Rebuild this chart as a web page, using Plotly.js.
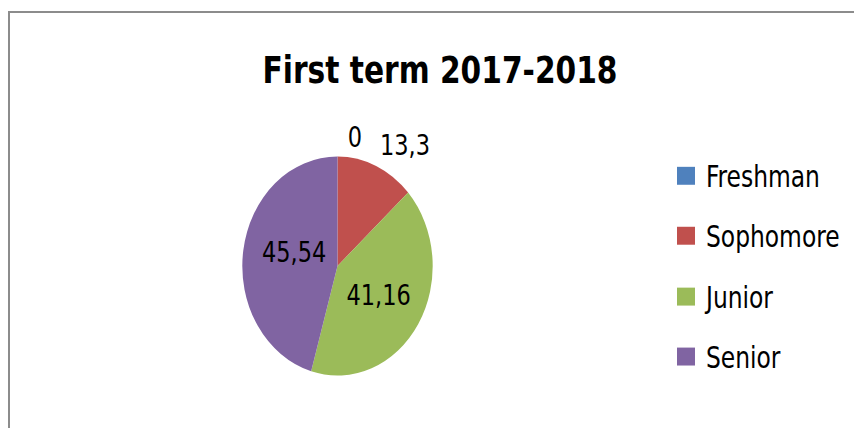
<!DOCTYPE html>
<html><head><meta charset="utf-8">
<script src="https://cdn.plot.ly/plotly-3.0.1.min.js"></script>
<style>
html,body{margin:0;padding:0;background:#fff;overflow:hidden;}
#wrap{position:absolute;left:0;top:0;width:854px;height:428px;overflow:hidden;background:#fff;}
#chart{position:absolute;left:0;top:0;width:854px;height:372px;transform:scaleY(1.150538);transform-origin:0 0;}
#frame{position:absolute;left:8px;top:11px;width:900px;height:500px;border-top:2px solid #8c8c8c;border-left:2px solid #8c8c8c;pointer-events:none;}
.pielayer path.textline{display:none;}
</style></head><body>
<div id="wrap"><div id="chart"></div><div id="frame"></div></div>
<script>
// ---- data ----
const categories = ['Freshman', 'Sophomore', 'Junior', 'Senior'];
const values = [0, 13.3, 41.16, 45.54];
const sliceColors = ['#4F81BD', '#C0504D', '#9BBB59', '#8064A2'];
const labelPositions = ['outside', 'outside', 'inside', 'inside'];
const chartTitle = 'First term 2017-2018';

// ---- style ----
const FONT = '"DejaVu Sans Condensed", "DejaVu Sans", sans-serif';
const H = 372, W = 854;
// small label offsets (px) to mimic Excel's label placement
const labelNudge = [[3, 16.5], [-3.5, -6], [0, 0], [4, -5]];

const trace = {
  type: 'pie',
  labels: categories,
  values: values,
  sort: false,
  direction: 'clockwise',
  rotation: 0,
  marker: {colors: sliceColors, line: {width: 0}},
  textinfo: 'value',
  textposition: labelPositions,
  insidetextorientation: 'horizontal',
  textfont: {family: FONT, size: 25, color: '#000'},
  insidetextfont: {family: FONT, size: 25, color: '#000'},
  outsidetextfont: {family: FONT, size: 25, color: '#000'},
  domain: {x: [0.2547, 0.5357], y: [0.1226, 0.6344]},
  hoverinfo: 'none'
};

const layout = {
  width: W, height: H,
  margin: {l: 0, r: 0, t: 0, b: 0},
  paper_bgcolor: 'rgba(0,0,0,0)',
  plot_bgcolor: 'rgba(0,0,0,0)',
  separators: ',.',
  font: {family: FONT, color: '#000'},
  title: {
    text: chartTitle,
    font: {family: FONT, size: 33, weight: 'bold', color: '#000'},
    x: 440 / W, xanchor: 'center', xref: 'container',
    y: 1 - 61 / H, yanchor: 'middle', yref: 'container'
  },
  showlegend: true,
  legend: {
    x: 666 / W, xanchor: 'left',
    y: 1 - 130 / H, yanchor: 'top',
    font: {family: FONT, size: 26, color: '#000'},
    bgcolor: 'rgba(0,0,0,0)', borderwidth: 0,
    traceorder: 'normal'
  }
};

const gd = document.getElementById('chart');
Plotly.newPlot(gd, [trace], layout, {staticPlot: true, displayModeBar: false}).then(function () {
  // label nudges
  gd.querySelectorAll('.pielayer g.slice').forEach(function (s, i) {
    const st = s.querySelector('g.slicetext');
    if (st && labelNudge[i]) st.setAttribute('transform', 'translate(' + labelNudge[i][0] + ',' + labelNudge[i][1] + ')');
  });
  // legend: Excel-like spacing and larger swatches
  const centers = [152.8, 204.9, 257.8, 309.9];
  const leg = gd.querySelector('g.legend');
  if (!leg) return;
  const m = /translate\(\s*([-\d.e]+)[ ,]+([-\d.e]+)\s*\)/.exec(leg.getAttribute('transform') || '');
  const ly = m ? parseFloat(m[2]) : 0;
  const sb = leg.querySelector('.scrollbox');
  if (sb) sb.removeAttribute('clip-path');
  leg.querySelectorAll('.traces').forEach(function (t, i) {
    const tm = /translate\(\s*([-\d.e]+)[ ,]+([-\d.e]+)\s*\)/.exec(t.getAttribute('transform') || '');
    const tx = tm ? parseFloat(tm[1]) : 0;
    if (i < centers.length) t.setAttribute('transform', 'translate(' + tx + ',' + (centers[i] - ly) + ')');
  });
  leg.querySelectorAll('.legendpoints path').forEach(function (p) {
    const base = p.getAttribute('transform') || '';
    p.setAttribute('transform', base + ' scale(1.5,1.3)');
  });
});
</script>
</body></html>
